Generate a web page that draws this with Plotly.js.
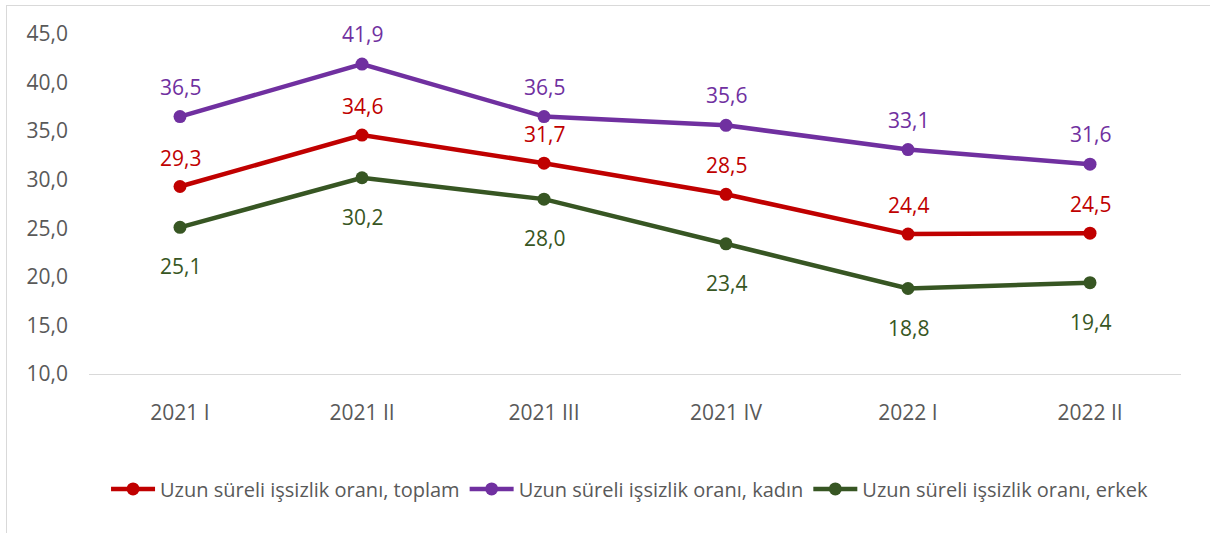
<!DOCTYPE html>
<html><head><meta charset="utf-8">
<script src="https://cdn.plot.ly/plotly-3.0.1.min.js"></script>
<style>
html,body{margin:0;padding:0;background:#fff;}
#wrap{position:relative;width:1210px;height:533px;overflow:hidden;}
#chart{position:absolute;left:0;top:0;width:1210px;height:533px;}
#frame{position:absolute;left:6px;top:5px;width:1300px;height:700px;border:1px solid #d9d9d9;pointer-events:none;}
</style></head>
<body><div id="wrap"><div id="chart"></div><div id="frame"></div></div>
<script>
const categories = ["2021 I","2021 II","2021 III","2021 IV","2022 I","2022 II"];
const toplam = [29.3, 34.6, 31.7, 28.5, 24.4, 24.5];
const kadin  = [36.5, 41.9, 36.5, 35.6, 33.1, 31.6];
const erkek  = [25.1, 30.2, 28.0, 23.4, 18.8, 19.4];
const seriesNames = ["Uzun süreli işsizlik oranı, toplam","Uzun süreli işsizlik oranı, kadın","Uzun süreli işsizlik oranı, erkek"];
const colors = ["#C00000","#7030A0","#375623"];
const FONT = "Open Sans, Noto Sans, sans-serif";

const series = [toplam, kadin, erkek];
const shifts = [29, 30, -39];
const traces = series.map((vals,i)=>({
  x: categories, y: vals, type:'scatter', mode:'lines+markers', name: seriesNames[i],
  line:{color:colors[i], width:4.5}, marker:{color:colors[i], size:13},
  hoverinfo:'skip'
}));
const fmt = v => v.toFixed(1).replace('.', ',');
const annotations = [];
series.forEach((vals,i)=>{
  vals.forEach((v,j)=>{
    annotations.push({x:categories[j], y:v, xref:'x', yref:'y', text:fmt(v), showarrow:false,
      yshift:shifts[i], font:{family:FONT, size:21, color:colors[i]}});
  });
});

const layout = {
  width:1210, height:533,
  margin:{l:89, r:29, t:34, b:159, autoexpand:false},
  paper_bgcolor:'#fff', plot_bgcolor:'#fff',
  separators:',.',
  font:{family:FONT, size:21, color:'#595959'},
  showlegend:true,
  legend:{orientation:'h', x:0.495, xanchor:'center', y:-0.338, yanchor:'middle',
    font:{family:FONT, size:20, color:'#595959'}, traceorder:'normal', itemwidth:44, tracegroupgap:0},
  xaxis:{type:'category', range:[-0.5,5.5], showgrid:false, zeroline:false, showline:true, linecolor:'#d9d9d9', linewidth:1,
    ticks:'', ticklabelstandoff:20, tickfont:{family:FONT, size:21, color:'#595959'}, fixedrange:true},
  yaxis:{range:[10,45], dtick:5, tick0:10, tickformat:'.1f', showgrid:false, zeroline:false, showline:false,
    ticks:'', ticklabelstandoff:20, tickfont:{family:FONT, size:21, color:'#595959'}, fixedrange:true},
  annotations: annotations
};
Plotly.newPlot('chart', traces, layout, {displayModeBar:false, staticPlot:true});
</script></body></html>
